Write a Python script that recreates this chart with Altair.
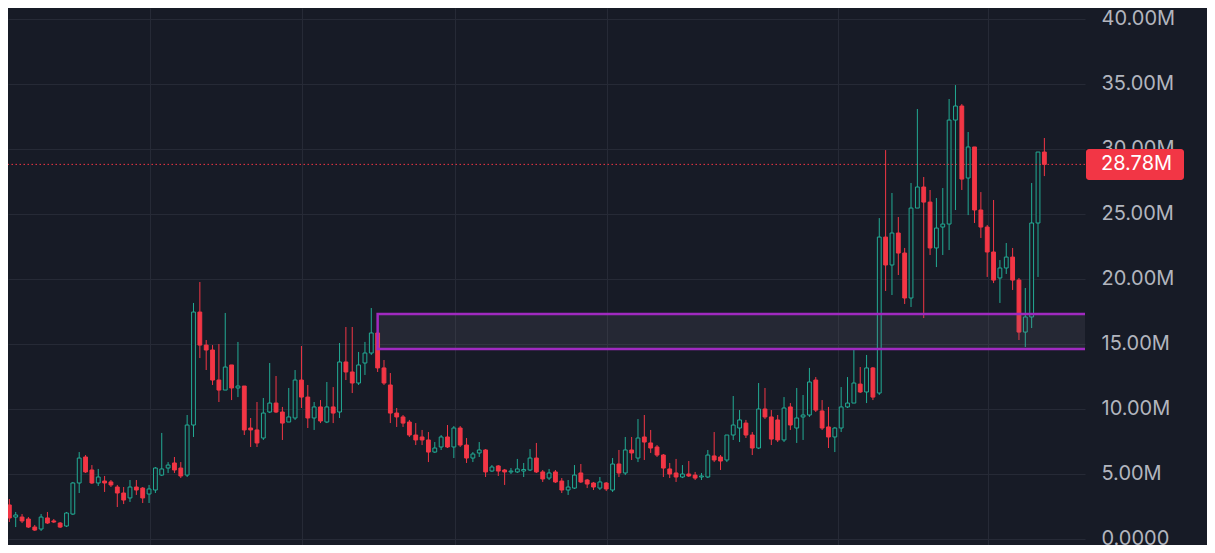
import altair as alt
import pandas as pd

# ---- OHLC values (millions), one candle per period ----
opens = [1.42, 2.58, 1.65, 1.65, 1.5, 0.88, 0.73, 1.58, 1.35, 1.19,
         0.96, 1.88, 4.27, 6.27, 5.27, 4.27, 4.42, 4.35, 3.96, 3.5,
         3.12, 3.96, 3.88, 3.42, 3.73, 4.88, 5.42, 5.81, 5.42, 4.88,
         8.73, 17.42, 14.88, 14.5, 12.19, 11.42, 13.35, 11.58, 11.73, 8.5,
         8.35, 7.73, 9.73, 10.42, 9.73, 8.96, 9.27, 12.19, 10.88, 9.27,
         10.12, 8.96, 10.12, 9.73, 13.58, 12.81, 11.96, 13.5, 14.27, 15.81,
         13.12, 11.81, 9.65, 9.35, 8.96, 7.96, 7.81, 7.58, 6.65, 7.04,
         7.81, 7.04, 8.5, 7.19, 6.19, 6.58, 6.81, 5.19, 5.58, 5.27,
         5.12, 5.12, 5.19, 5.27, 6.19, 5.12, 4.65, 5.12, 4.42, 3.73,
         3.88, 5.04, 4.5, 4.27, 3.88, 4.27, 3.73, 5.73, 5.04, 6.81,
         6.19, 7.81, 7.35, 7.04, 6.42, 5.35, 5.04, 4.73, 4.96, 4.88,
         4.73, 4.73, 6.35, 6.27, 6.04, 7.96, 8.5, 8.88, 7.96, 6.96,
         9.96, 9.35, 9.12, 7.58, 10.12, 8.5, 9.35, 9.5, 12.19, 9.81,
         8.58, 7.81, 8.5, 10.12, 10.42, 11.88, 11.27, 13.12, 11.19, 23.19,
         21.04, 23.5, 21.96, 18.5, 25.42, 27.04, 25.88, 22.35, 23.96, 24.19,
         32.19, 33.27, 27.73, 30.12, 25.27, 23.96, 22.04, 20.04, 20.81, 21.65,
         19.88, 15.88, 17.04, 24.27, 29.73]

closes = [2.58, 1.58, 1.81, 1.35, 0.88, 0.65, 1.65, 1.19, 1.27, 0.88,
          1.96, 4.27, 6.19, 5.12, 4.27, 4.73, 4.27, 4.12, 3.5, 2.96,
          3.96, 3.73, 3.12, 3.81, 5.42, 5.35, 5.65, 5.27, 4.81, 8.73,
          17.42, 14.88, 14.5, 12.19, 11.42, 13.19, 11.58, 11.73, 8.35, 8.35,
          7.35, 9.65, 10.42, 9.73, 8.88, 9.35, 12.19, 10.88, 9.27, 10.12,
          9.04, 10.12, 9.65, 13.58, 12.81, 11.96, 13.35, 14.27, 15.81, 13.12,
          11.96, 9.65, 9.35, 8.88, 7.96, 7.58, 7.58, 6.65, 6.96, 7.81,
          7.04, 8.5, 7.19, 6.19, 6.5, 6.81, 5.12, 5.5, 5.19, 5.12,
          5.19, 5.35, 5.31, 6.19, 5.12, 4.58, 5.04, 4.35, 3.73, 3.96,
          4.88, 4.35, 4.19, 3.96, 4.35, 3.81, 5.73, 5.04, 6.81, 6.58,
          7.73, 7.42, 6.96, 6.42, 5.42, 4.96, 4.73, 4.96, 4.81, 4.65,
          4.81, 6.42, 6.04, 5.96, 7.96, 8.73, 9.12, 7.96, 6.96, 9.96,
          9.35, 7.65, 7.58, 10.04, 8.73, 9.27, 9.5, 12.04, 9.88, 8.5,
          7.81, 8.5, 10.12, 10.42, 11.96, 11.27, 13.12, 10.88, 23.19, 21.04,
          23.5, 21.96, 18.5, 25.42, 27.04, 25.88, 22.35, 23.88, 24.19, 32.19,
          33.27, 27.65, 30.12, 25.27, 23.96, 22.04, 19.88, 20.81, 21.65, 19.88,
          15.88, 17.04, 24.27, 29.73, 28.78]

highs = [2.81, 3.04, 2.04, 1.88, 1.65, 1.04, 1.88, 2.04, 1.5, 1.27,
         2.04, 4.35, 6.65, 6.42, 5.65, 5.35, 4.81, 4.5, 4.12, 3.96,
         4.5, 4.5, 3.96, 4.12, 5.5, 8.12, 5.88, 6.27, 5.88, 9.5,
         18.12, 19.73, 15.27, 14.88, 14.96, 17.35, 13.35, 15.12, 11.73, 9.27,
         10.5, 10.81, 13.5, 12.5, 10.12, 11.58, 12.96, 14.81, 11.81, 10.5,
         10.65, 12.04, 11.65, 15.04, 16.27, 16.27, 14.35, 15.12, 17.73, 16.04,
         13.73, 12.73, 10.04, 9.5, 9.12, 8.88, 8.35, 8.19, 7.42, 7.96,
         8.73, 8.65, 8.65, 7.73, 6.65, 7.42, 6.88, 5.65, 5.65, 5.35,
         5.42, 6.12, 5.81, 6.88, 7.35, 5.27, 5.35, 5.27, 4.65, 4.5,
         5.65, 5.73, 4.58, 4.35, 4.73, 4.35, 6.19, 6.81, 7.81, 7.81,
         9.19, 9.5, 8.35, 7.19, 6.5, 5.81, 6.12, 5.65, 5.96, 5.12,
         5.04, 6.81, 8.19, 6.42, 7.96, 10.96, 9.88, 9.12, 8.19, 11.96,
         11.58, 9.88, 9.5, 10.88, 10.42, 11.58, 11.04, 13.12, 12.42, 10.65,
         10.12, 8.58, 11.65, 12.42, 14.65, 13.19, 14.12, 13.19, 24.65, 29.88,
         26.58, 24.73, 22.35, 27.35, 33.04, 27.81, 26.81, 26.19, 26.96, 33.81,
         34.88, 33.42, 31.27, 30.12, 26.65, 24.12, 26.04, 21.42, 22.73, 22.35,
         20.04, 19.27, 27.35, 29.73, 30.81]

lows = [0.88, 1.27, 0.88, 1.19, 0.81, 0.58, 0.58, 1.12, 1.19, 0.81,
        0.88, 1.81, 3.5, 5.04, 4.19, 4.04, 3.58, 3.96, 2.42, 2.65,
        2.81, 3.35, 2.73, 2.73, 3.5, 4.81, 5.04, 5.04, 4.65, 4.73,
        7.81, 13.88, 12.96, 11.81, 10.5, 11.42, 10.65, 10.88, 7.96, 7.04,
        7.04, 7.58, 9.65, 9.65, 7.58, 8.96, 9.12, 10.04, 8.5, 8.35,
        8.88, 8.88, 8.88, 9.27, 12.19, 11.19, 11.81, 12.58, 14.12, 12.81,
        11.81, 8.88, 8.58, 8.58, 7.81, 7.19, 7.19, 5.88, 6.58, 6.81,
        6.96, 6.19, 7.04, 5.81, 5.88, 6.27, 4.73, 5.12, 4.81, 4.12,
        4.96, 5.04, 4.73, 5.19, 5.04, 4.35, 4.5, 4.27, 3.5, 3.35,
        3.81, 4.27, 3.88, 3.73, 3.73, 3.65, 3.58, 4.73, 4.88, 6.04,
        5.88, 6.04, 6.58, 6.27, 4.73, 4.65, 4.35, 4.65, 4.73, 4.5,
        4.5, 4.65, 5.88, 5.27, 5.88, 7.58, 7.42, 7.73, 6.42, 6.88,
        9.19, 7.19, 7.42, 7.42, 8.35, 7.35, 7.58, 9.35, 9.73, 8.35,
        6.96, 6.65, 8.19, 10.04, 10.42, 11.19, 10.42, 10.65, 11.04, 19.04,
        18.73, 20.27, 18.04, 17.81, 25.42, 16.96, 21.81, 20.88, 21.81, 22.19,
        25.27, 26.81, 24.88, 24.27, 23.12, 20.12, 19.65, 18.12, 20.35, 19.12,
        15.27, 14.73, 16.19, 20.12, 27.88]

# vertical grid positions (period index) and price ticks
grid_x = [23.15, 47.1, 71.2, 95.1, 131.5, 155.1]
y_ticks = [0, 5, 10, 15, 20, 25, 30, 35, 40]

last_price = 28.78
last_label = "28.78M"
zone_start = 59
zone_low = 14.58
zone_high = 17.27

BG = "#171b26"
GRID = "#262a36"
UP = "#22ab94"
DOWN = "#f23645"
PURPLE = "#a02ac0"
TXT = "#b2b5be"
FONT = "Inter"

n = len(opens)
df = pd.DataFrame({"i": list(range(n)), "open": opens, "high": highs,
                   "low": lows, "close": closes})
df["dir"] = ["up" if c >= o else "down" for o, c in zip(opens, closes)]

W, H = 1077, 537
x_scale = alt.Scale(domain=[0.787, 170.4], nice=False, zero=False)
y_scale = alt.Scale(domain=[-0.5, 40.81], nice=False, zero=False)
color_scale = alt.Scale(domain=["up", "down"], range=[UP, DOWN])

x_axis = alt.Axis(values=grid_x, grid=True, gridColor=GRID, gridWidth=1,
                  labels=False, ticks=False, domain=False, title=None, zindex=0)
y_axis = alt.Axis(orient="right", values=y_ticks, grid=True, gridColor=GRID,
                  gridWidth=1, ticks=False, tickSize=0, domain=False,
                  labelPadding=16, labelColor=TXT, labelFont=FONT,
                  labelFontSize=20, labelAlign="left", labelBaseline="middle",
                  labelExpr="datum.value == 0 ? '0.0000' : format(datum.value, '.2f') + 'M'",
                  title=None, zindex=0)

base = alt.Chart(df)

wicks = base.mark_rule(strokeWidth=1, clip=True).encode(
    x=alt.X("i:Q", scale=x_scale, axis=x_axis),
    y=alt.Y("low:Q", scale=y_scale, axis=y_axis),
    y2="high:Q",
    color=alt.Color("dir:N", scale=color_scale, legend=None),
)

bodies_down = base.transform_filter(alt.datum.dir == "down").transform_calculate(
    xa="datum.i - 0.3", xb="datum.i + 0.3"
).mark_rect(fill=DOWN, stroke=DOWN, strokeWidth=1, clip=True).encode(
    x=alt.X("xa:Q", scale=x_scale, title=None),
    x2="xb:Q",
    y=alt.Y("open:Q", scale=y_scale, title=None),
    y2="close:Q",
)

bodies_up = base.transform_filter(alt.datum.dir == "up").transform_calculate(
    xa="datum.i - 0.3", xb="datum.i + 0.3"
).mark_rect(fill=BG, stroke=UP, strokeWidth=1, clip=True).encode(
    x=alt.X("xa:Q", scale=x_scale, title=None),
    x2="xb:Q",
    y=alt.Y("open:Q", scale=y_scale, title=None),
    y2="close:Q",
)

zone_df = pd.DataFrame({"x0": [zone_start], "x1": [175], "lo": [zone_low], "hi": [zone_high]})
zone = alt.Chart(zone_df).mark_rect(
    fill="#787b86", fillOpacity=0.15, stroke=PURPLE, strokeWidth=2.5, clip=True
).encode(
    x=alt.X("x0:Q", scale=x_scale, title=None),
    x2="x1:Q",
    y=alt.Y("lo:Q", scale=y_scale, title=None),
    y2="hi:Q",
)

price_df = pd.DataFrame({"p": [last_price], "top": [last_price + 1.18],
                         "bot": [last_price - 1.2], "label": [last_label]})
price_line = alt.Chart(price_df).mark_rule(
    color=DOWN, strokeWidth=1, strokeDash=[1.5, 2.5]
).encode(y=alt.Y("p:Q", scale=y_scale, title=None))

price_box = alt.Chart(price_df).mark_rect(color=DOWN, cornerRadius=3).encode(
    x=alt.value(W + 1), x2=alt.value(W + 99),
    y=alt.Y("top:Q", scale=y_scale, title=None), y2="bot:Q",
)
price_text = alt.Chart(price_df).mark_text(
    align="left", baseline="middle", font=FONT, fontSize=20, color="#ffffff"
).encode(
    x=alt.value(W + 16),
    y=alt.Y("p:Q", scale=y_scale, title=None),
    text="label:N",
)

chart = alt.layer(
    wicks, bodies_down, bodies_up, zone, price_line, price_box, price_text
).properties(
    width=W, height=H, background=BG,
    padding={"left": 0, "top": 0, "right": 122, "bottom": 0},
    autosize=alt.AutoSizeParams(type="none"),
).configure_view(strokeWidth=0)

chart.save("out.html", embed_options={"renderer": "svg", "actions": False})
